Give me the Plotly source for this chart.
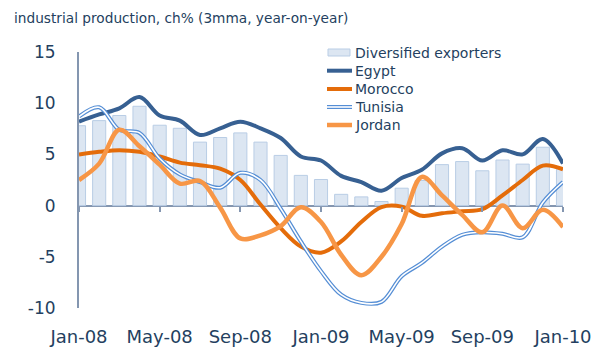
import pandas as pd
import plotly.graph_objects as go

# Monthly categories Jan-08 .. Jan-10
months = [d.strftime("%b-%y") for d in pd.date_range("2008-01-01", "2010-01-01", freq="MS")]
tick_months = ["Jan-08", "May-08", "Sep-08", "Jan-09", "May-09", "Sep-09", "Jan-10"]
y_ticks = [-10, -5, 0, 5, 10, 15]
y_tick_text = ["-10", "-5", "0", "5", "10", "15"]

diversified = [7.8, 8.3, 8.8, 9.7, 7.85, 7.55, 6.2, 6.65, 7.1, 6.2, 4.9, 2.95, 2.55,
               1.1, 0.85, 0.4, 1.7, 2.45, 4.0, 4.3, 3.4, 4.45, 4.05, 5.7, 3.55]
egypt = [8.2, 8.9, 9.5, 10.6, 8.8, 8.3, 6.9, 7.55, 8.2, 7.55, 6.6, 4.8, 4.4,
         2.9, 2.3, 1.45, 2.7, 3.5, 5.1, 5.6, 4.4, 5.4, 5.0, 6.5, 4.1]
morocco = [5.0, 5.25, 5.4, 5.25, 4.8, 4.2, 3.95, 3.6, 2.5, 0.1, -2.2, -4.0, -4.6,
           -3.5, -1.6, -0.15, -0.1, -1.0, -0.75, -0.55, -0.35, 1.0, 2.5, 3.9, 3.55]
tunisia = [8.7, 9.6, 7.4, 7.1, 4.6, 3.05, 2.3, 1.75, 3.2, 2.5, -0.3, -3.5, -6.4,
           -8.7, -9.5, -9.4, -6.9, -5.6, -4.0, -2.85, -2.6, -2.75, -3.1, 0.3, 2.3]
jordan = [2.5, 4.1, 7.4, 5.8, 4.0, 2.15, 2.4, -0.2, -3.2, -2.9, -2.0, -0.15, -1.6,
          -4.8, -6.8, -5.0, -1.8, 2.8, 1.0, -0.9, -2.6, 0.0, -2.2, -0.4, -2.1]

navy = "#243F60"
axis_col = "#8496B0"
font_family = "DejaVu Sans"

W, H = 603, 349
L, R, T, B = 79, 40, 52, 41
plot_w, plot_h = W - L - R, H - T - B


def px_x(x):
    return (x - L) / plot_w


def px_y(y):
    return (H - B - y) / plot_h


series_style = {
    "Egypt": dict(color="#376092", width=4),
    "Morocco": dict(color="#E46C0A", width=4),
    "Tunisia": dict(color="#558ED5", width=4),
    "Jordan": dict(color="#F79646", width=4.5),
}

fig = go.Figure()
fig.add_trace(go.Bar(
    x=months, y=diversified, name="Diversified exporters",
    marker=dict(color="#DCE6F2", line=dict(color="#B9CDE5", width=1)),
    width=0.65,
))
for name, vals in [("Egypt", egypt), ("Morocco", morocco), ("Tunisia", tunisia)]:
    fig.add_trace(go.Scatter(
        x=months, y=vals, name=name, mode="lines",
        line=dict(**series_style[name], shape="spline", smoothing=1),
    ))
# white core gives Tunisia its double-line look
fig.add_trace(go.Scatter(
    x=months, y=tunisia, mode="lines", hoverinfo="skip",
    line=dict(color="white", width=1.6, shape="spline", smoothing=1),
))
fig.add_trace(go.Scatter(
    x=months, y=jordan, name="Jordan", mode="lines",
    line=dict(**series_style["Jordan"], shape="spline", smoothing=1),
))

# axis at y = 0 carrying the month tick marks
fig.add_trace(go.Scatter(x=months, y=[None] * len(months), xaxis="x2",
                         hoverinfo="skip", mode="lines"))

fig.update_layout(
    width=W, height=H,
    margin=dict(l=L, r=R, t=T, b=B),
    paper_bgcolor="white", plot_bgcolor="white",
    font=dict(family=font_family, color=navy),
    showlegend=False,
    title=dict(
        text="industrial production, ch% (3mma, year-on-year)",
        x=14 / W, xanchor="left", xref="container",
        y=1 - 18 / H, yanchor="middle", yref="container",
        font=dict(size=13.7, color=navy, family=font_family),
    ),
)

fig.update_xaxes(
    type="category", range=[0, 24], automargin=False,
    tickmode="array", tickvals=tick_months, ticktext=tick_months,
    showline=False, ticks="", showgrid=False, zeroline=False,
    tickfont=dict(size=18, color=navy), ticklabelstandoff=16,
)
fig.update_yaxes(
    range=[-10, 15], tickvals=y_ticks, ticktext=y_tick_text, automargin=False,
    showgrid=False, zeroline=True, zerolinecolor=axis_col, zerolinewidth=2,
    showline=True, linecolor=axis_col, linewidth=2, ticks="",
    tickfont=dict(size=17, color=navy), ticklabelstandoff=18,
)
fig.update_layout(xaxis2=dict(
    overlaying="x", anchor="free", position=0.4, side="bottom",
    type="category", range=[0, 24], categoryarray=months, categoryorder="array",
    tickmode="array", tickvals=tick_months, ticks="outside", ticklen=5,
    tickcolor=axis_col, tickwidth=2, showticklabels=False, showline=False,
    showgrid=False, zeroline=False, automargin=False,
))

# Legend, drawn as keys and labels in the upper right of the plot
leg_x0, leg_x1, text_x = 327, 352, 353
leg_rows = [("Diversified exporters", 52.5), ("Egypt", 70.7), ("Morocco", 89),
            ("Tunisia", 107), ("Jordan", 125)]
for name, yc in leg_rows:
    if name == "Diversified exporters":
        fig.add_shape(type="rect", xref="paper", yref="paper",
                      x0=px_x(328), x1=px_x(350), y0=px_y(yc - 3.5), y1=px_y(yc + 3.5),
                      fillcolor="#DCE6F2", line=dict(color="#B9CDE5", width=1))
    else:
        st = series_style[name]
        fig.add_shape(type="line", xref="paper", yref="paper",
                      x0=px_x(leg_x0), x1=px_x(leg_x1), y0=px_y(yc), y1=px_y(yc),
                      line=dict(color=st["color"], width=st["width"]))
        if name == "Tunisia":
            fig.add_shape(type="line", xref="paper", yref="paper",
                          x0=px_x(leg_x0), x1=px_x(leg_x1), y0=px_y(yc), y1=px_y(yc),
                          line=dict(color="white", width=1.6))
    fig.add_annotation(text=name, xref="paper", yref="paper",
                       x=px_x(text_x), y=px_y(yc), xanchor="left", yanchor="middle",
                       showarrow=False, font=dict(size=14, color=navy))

fig.write_html("out.html")
